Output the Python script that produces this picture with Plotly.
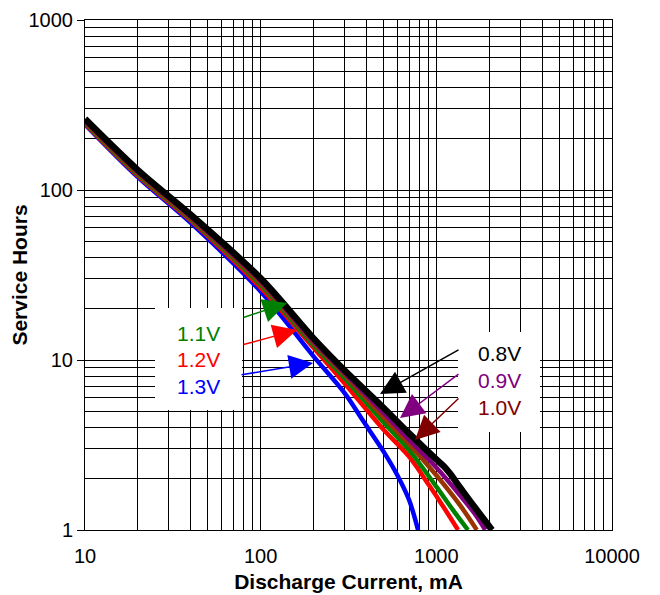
import plotly.graph_objects as go

# ---- data (mA, hours) ----
x_08 = [10, 20, 40, 100, 200, 300, 500, 700, 1000, 1100, 1200, 1364, 1700, 2075]
y_08 = [262, 131, 71.5, 30.2, 13.4, 8.7, 5.24, 3.7, 2.60, 2.38, 2.14, 1.78, 1.31, 1.0]

x_09 = [10, 20, 40, 100, 200, 300, 500, 700, 1000, 1364, 1650, 1900]
y_09 = [255, 128, 69.5, 29.2, 12.9, 8.4, 4.9, 3.4, 2.33, 1.60, 1.25, 1.0]

x_10 = [10, 20, 40, 100, 200, 300, 500, 700, 1000, 1364, 1700]
y_10 = [250, 125, 68, 28.4, 12.6, 8.2, 4.6, 3.2, 2.10, 1.40, 1.0]

x_11 = [10, 20, 40, 100, 200, 300, 500, 700, 1000, 1245, 1514]
y_11 = [248, 123, 67, 27.6, 12.2, 7.85, 4.3, 2.95, 1.80, 1.31, 1.0]

x_12 = [10, 20, 40, 100, 200, 300, 500, 700, 920, 1091, 1330]
y_12 = [245, 121, 66, 26.6, 11.8, 7.3, 3.9, 2.7, 1.8, 1.38, 1.0]

x_13 = [10, 20, 40, 100, 200, 300, 382, 500, 600, 700, 787]
y_13 = [243, 119, 64, 25.3, 10.5, 6.4, 4.4, 2.9, 2.1, 1.5, 1.0]

labels = ["1.3V", "1.2V", "1.1V", "1.0V", "0.9V", "0.8V"]
line_colors = ["#0000FF", "#FF0000", "#008000", "#993300", "#800080", "#000000"]
text_colors = ["#0000FF", "#FF0000", "#008000", "#800000", "#800080", "#000000"]
widths = [4.5, 4.5, 4.5, 4.5, 4.5, 6.5]
series = [(x_13, y_13), (x_12, y_12), (x_11, y_11), (x_10, y_10), (x_09, y_09), (x_08, y_08)]

x_ticks = [10, 100, 1000, 10000]
x_ticktext = ["10", "100", "1000", "10000"]
y_ticks = [1, 10, 100, 1000]
y_ticktext = ["1", "10", "100", "1000"]

FONT = "Liberation Sans, Arial, sans-serif"

fig = go.Figure()
for (xs, ys), name, c, w in zip(series, labels, line_colors, widths):
    fig.add_trace(go.Scatter(x=xs, y=ys, mode="lines", name=name,
                             line=dict(color=c, width=w, shape="spline", smoothing=0.9),
                             showlegend=False))

# page has an 8px body margin: figure placed at (8, 8) of the window
OFF = 8
W, H = 660 - OFF, 595 - OFF
L, R, T, B = 85 - OFF, 48, 20 - OFF, 65
pw, ph = W - L - R, H - T - B


def px(xp, yp):
    """window pixel -> paper coords"""
    return (xp - OFF - L) / pw, (H - B - (yp - OFF)) / ph


def minor_vals(majors):
    out = []
    for m in majors[:-1]:
        out += [m * k for k in range(2, 10)]
    return out


fig.update_layout(
    width=W, height=H,
    margin=dict(l=L, r=R, t=T, b=B, autoexpand=False),
    paper_bgcolor="white", plot_bgcolor="white",
    font=dict(family=FONT, size=20, color="black"),
)
fig.update_xaxes(
    type="log", range=[1, 4], automargin=False,
    tickmode="array", tickvals=x_ticks, ticktext=x_ticktext,
    ticks="", ticklabelstandoff=8, ticklabeloverflow="allow",
    showgrid=True, gridcolor="black", gridwidth=1,
    minor=dict(tickmode="array", tickvals=minor_vals(x_ticks), showgrid=True,
               gridcolor="black", gridwidth=1, ticks=""),
    showline=True, linecolor="black", linewidth=1, mirror=True,
    zeroline=False,
    title=dict(text="<b>Discharge Current, mA</b>", font=dict(size=21), standoff=8),
)
fig.update_yaxes(
    type="log", range=[0, 3], automargin=False,
    tickmode="array", tickvals=y_ticks, ticktext=y_ticktext,
    ticks="outside", ticklen=7, tickcolor="black", ticklabeloverflow="allow",
    showgrid=True, gridcolor="black", gridwidth=1,
    minor=dict(tickmode="array", tickvals=minor_vals(y_ticks), showgrid=True,
               gridcolor="black", gridwidth=1, ticks=""),
    showline=True, linecolor="black", linewidth=1, mirror=True,
    zeroline=False,
    title=dict(text="<b>Service Hours</b>", font=dict(size=21), standoff=4),
)

# white label boxes
for (x0, y0, x1, y1) in [(155, 308, 242, 410), (458, 332, 540, 432)]:
    a0, b0 = px(x0, y1)
    a1, b1 = px(x1, y0)
    fig.add_shape(type="rect", xref="paper", yref="paper", x0=a0, y0=b0, x1=a1, y1=b1,
                  fillcolor="white", line=dict(width=0), layer="above")

# label texts
label_pos = {"1.1V": (198, 333), "1.2V": (198, 359), "1.3V": (198, 386),
             "0.8V": (499, 353), "0.9V": (499, 381), "1.0V": (499, 407)}
for name, c in zip(labels, text_colors):
    a, b = px(*label_pos[name])
    fig.add_annotation(xref="paper", yref="paper", x=a, y=b, text=name, showarrow=False,
                       font=dict(size=21, color=c), xanchor="center", yanchor="middle")

# arrows: tip pixel, tail pixel
arrow_pos = {"1.1V": ((287, 303), (242, 318)), "1.2V": ((297, 330), (242, 345)),
             "1.3V": ((313, 363), (240, 375)), "0.8V": ((380, 394), (460, 349)),
             "0.9V": ((400, 418), (460, 373)), "1.0V": ((415, 440), (460, 397))}
for name, c in zip(labels, text_colors):
    (tx, ty), (sx, sy) = arrow_pos[name]
    a, b = px(tx, ty)
    fig.add_annotation(xref="paper", yref="paper", x=a, y=b, text="", showarrow=True,
                       ax=sx - tx, ay=sy - ty, arrowcolor=c, arrowwidth=1.5,
                       arrowhead=2, arrowsize=3.2, standoff=0)

fig.write_html("out.html")
